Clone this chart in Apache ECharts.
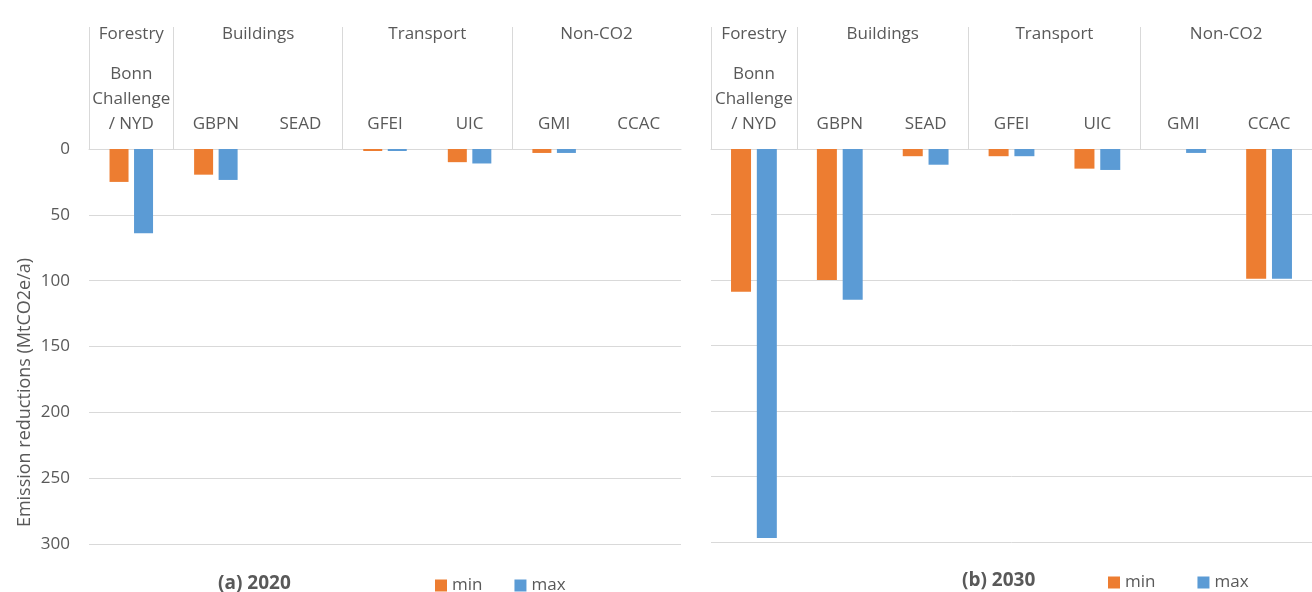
<!DOCTYPE html>
<html>
<head>
<meta charset="utf-8">
<script src="https://cdn.jsdelivr.net/npm/echarts@6/dist/echarts.min.js"></script>
<style>
html,body{margin:0;padding:0;background:#fff;}
#chart{width:1312px;height:592px;}
</style>
</head>
<body>
<div id="chart"></div>
<script>
// ---- data ----
var categories = ['Bonn\nChallenge\n/ NYD', 'GBPN', 'SEAD', 'GFEI', 'UIC', 'GMI', 'CCAC'];
var groups = ['Forestry', 'Buildings', 'Transport', 'Non-CO2'];
var groupSpans = [1, 2, 2, 2];
var min2020 = [25, 19.5, 0, 1.5, 10, 3, 0];
var max2020 = [64, 23.5, 0, 1.5, 11, 3, 0];
var min2030 = [109, 100, 5.5, 5.5, 15, 0, 99];
var max2030 = [297, 115, 12, 5.5, 16, 3, 99];
var yTicks = [0, 50, 100, 150, 200, 250, 300];
var seriesNames = ['min', 'max'];
var panelTitles = ['(a) 2020', '(b) 2030'];
var yName = 'Emission reductions (MtCO2e/a)';

// group boundaries and centres in category units
var groupBounds = [0], groupCenters = [];
(function () {
  var acc = 0;
  for (var i = 0; i < groupSpans.length; i++) {
    groupCenters.push(acc + groupSpans[i] / 2);
    acc += groupSpans[i];
    if (i < groupSpans.length - 1) groupBounds.push(acc);
  }
})();

var FONT = 'Open Sans';
var TXT = '#595959';
var GRID = '#d9d9d9';
var ORANGE = '#ED7D31';
var BLUE = '#5B9BD5';

function groupLabel(v) {
  for (var i = 0; i < groupCenters.length; i++) {
    if (Math.abs(groupCenters[i] - v) < 1e-6) return groups[i];
  }
  return '';
}

function catAxis(gi) {
  return {
    type: 'category', gridIndex: gi, position: 'top', data: categories,
    axisLine: { onZero: false, lineStyle: { color: GRID, width: 1 } },
    axisTick: { show: false },
    axisLabel: { interval: 0, margin: 12, fontFamily: FONT, fontSize: 17, color: TXT, lineHeight: 25 },
    splitLine: { show: false }
  };
}
function groupAxis(gi) {
  return {
    type: 'value', gridIndex: gi, position: 'top', min: 0, max: categories.length,
    axisLine: { show: false, onZero: false },
    axisTick: { show: true, customValues: groupBounds, length: 122, lineStyle: { color: GRID, width: 1 } },
    axisLabel: { show: true, customValues: groupCenters, formatter: groupLabel, margin: 106,
      fontFamily: FONT, fontSize: 17, color: TXT },
    splitLine: { show: false }
  };
}
function valAxis(gi, showLabels) {
  return {
    type: 'value', gridIndex: gi, inverse: true, min: yTicks[0], max: yTicks[yTicks.length - 1],
    interval: yTicks[1] - yTicks[0],
    axisLine: { show: false }, axisTick: { show: false },
    axisLabel: { show: showLabels, margin: 19, fontFamily: FONT, fontSize: 17, color: TXT },
    splitLine: { show: true, lineStyle: { color: GRID, width: 1 } },
    name: showLabels ? yName : '',
    nameLocation: 'middle', nameRotate: 90, nameGap: 55,
    nameTextStyle: { fontFamily: FONT, fontSize: 18, color: TXT, padding: [0, 92, 0, 0] }
  };
}
function bar(name, data, xi, yi, color, w) {
  return {
    type: 'bar', name: name, data: data, xAxisIndex: xi, yAxisIndex: yi,
    barWidth: w, barGap: '29%', itemStyle: { color: color }, silent: true, animation: false
  };
}

var chart = echarts.init(document.getElementById('chart'), null, { renderer: 'canvas' });
chart.setOption({
  animation: false,
  backgroundColor: '#fff',
  title: [
    { text: panelTitles[0], left: 218, top: 574, padding: 0, textStyle: { fontFamily: FONT, fontSize: 19, fontWeight: 'bold', color: TXT } },
    { text: panelTitles[1], left: 962, top: 571, padding: 0, textStyle: { fontFamily: FONT, fontSize: 19, fontWeight: 'bold', color: TXT } }
  ],
  legend: [
    { data: seriesNames, left: 435, top: 577, padding: 0, icon: 'rect', itemWidth: 12, itemHeight: 12, itemGap: 32,
      textStyle: { fontFamily: FONT, fontSize: 17, color: TXT } },
    { data: seriesNames, left: 1108, top: 574, padding: 0, icon: 'rect', itemWidth: 12, itemHeight: 12, itemGap: 42,
      textStyle: { fontFamily: FONT, fontSize: 17, color: TXT } }
  ],
  grid: [
    { left: 89, top: 149, width: 592, height: 395 },
    { left: 711, top: 149, width: 616, height: 393 }
  ],
  xAxis: [catAxis(0), groupAxis(0), catAxis(1), groupAxis(1)],
  yAxis: [valAxis(0, true), valAxis(1, false)],
  series: [
    bar(seriesNames[0], min2020, 0, 0, ORANGE, 19),
    bar(seriesNames[1], max2020, 0, 0, BLUE, 19),
    bar(seriesNames[0], min2030, 2, 1, ORANGE, 20),
    bar(seriesNames[1], max2030, 2, 1, BLUE, 20)
  ]
});
</script>
</body>
</html>
